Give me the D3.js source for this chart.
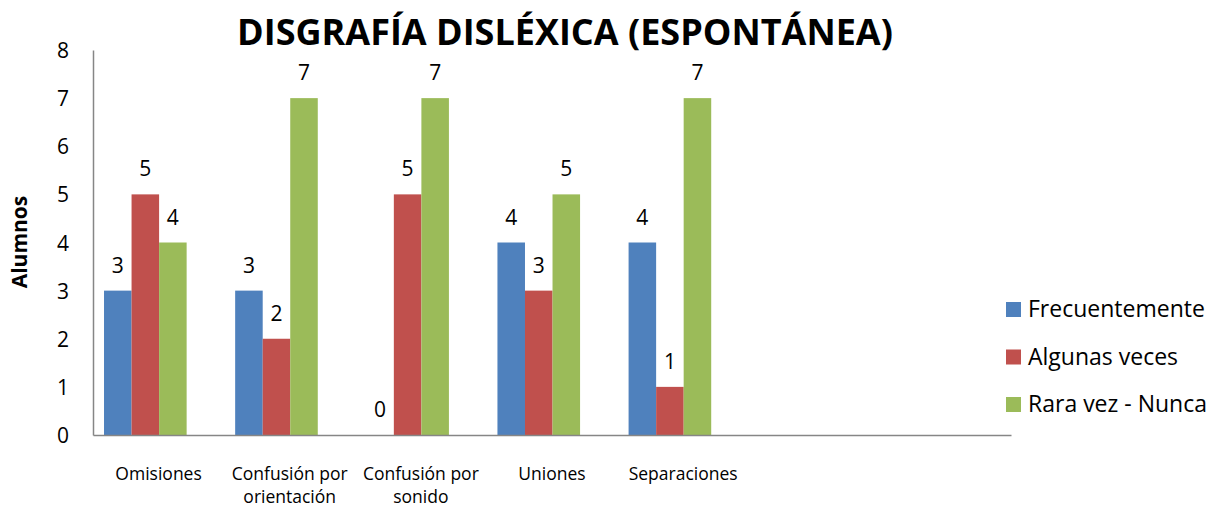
<!DOCTYPE html>
<html>
<head>
<meta charset="utf-8">
<script src="https://cdn.jsdelivr.net/npm/d3@7"></script>
<style>
  body { margin: 0; background: #fff; }
  svg text { font-family: "Open Sans", "Liberation Sans", sans-serif; fill: #000; }
</style>
</head>
<body>
<svg id="chart" width="1219" height="509"></svg>
<script>
// categories (two empty slots at the end, as in the original sheet)
var categories = ['Omisiones', 'Confusión por|orientación', 'Confusión por|sonido', 'Uniones', 'Separaciones', '', ' '];
var series = ['Frecuentemente', 'Algunas veces', 'Rara vez - Nunca'];
var frecuentemente = [3, 3, 0, 4, 4];
var algunasVeces = [5, 2, 5, 3, 1];
var raraVez = [4, 7, 7, 5, 7];
var colors = ['#4F81BD', '#C0504D', '#9BBB59'];
var yTicks = [0, 1, 2, 3, 4, 5, 6, 7, 8];

var values = [frecuentemente, algunasVeces, raraVez];

var svg = d3.select('#chart');
var plotLeft = 93, plotRight = 1011, plotTop = 50, plotBottom = 435;

var x0 = d3.scaleBand()
        .domain(categories)
        .range([plotLeft, plotRight]);
var bw = x0.bandwidth();
var x1 = d3.scaleBand()
        .domain(series)
        .range([bw * 0.084, bw * 0.714]);
var y = d3.scaleLinear()
        .domain([0, 8])
        .range([plotBottom, plotTop]);

// title
svg.append('text')
    .attr('x', 565).attr('y', 45)
    .attr('text-anchor', 'middle')
    .style('font-weight', 'bold')
    .style('font-size', '36px')
    .text('DISGRAFÍA DISLÉXICA (ESPONTÁNEA)');

// y axis title
svg.append('text')
    .attr('transform', 'translate(27,242) rotate(-90)')
    .attr('text-anchor', 'middle')
    .style('font-weight', 'bold')
    .style('font-size', '21px')
    .text('Alumnos');

// bars
var rows = [];
categories.slice(0, 5).forEach(function(c, i) {
    series.forEach(function(s, j) {
        rows.push({cat: c, ser: s, idx: j, v: values[j][i]});
    });
});

svg.append('g').selectAll('rect')
    .data(rows)
    .enter().append('rect')
        .attr('x', function(d) { return x0(d.cat) + x1(d.ser); })
        .attr('y', function(d) { return y(d.v); })
        .attr('width', x1.bandwidth())
        .attr('height', function(d) { return y(0) - y(d.v); })
        .style('fill', function(d) { return colors[d.idx]; });

svg.append('g').selectAll('text')
    .data(rows)
    .enter().append('text')
        .attr('x', function(d) { return x0(d.cat) + x1(d.ser) + x1.bandwidth() / 2; })
        .attr('y', function(d) { return y(d.v) - 18; })
        .attr('text-anchor', 'middle')
        .style('font-size', '21px')
        .text(function(d) { return d.v; });

// axes
var yAxis = svg.append('g')
    .attr('transform', 'translate(' + plotLeft + ',0)')
    .call(d3.axisLeft(y).tickValues(yTicks).tickSize(0).tickPadding(24));
yAxis.select('.domain').attr('stroke', '#868686').attr('stroke-width', 1.5);
yAxis.selectAll('text').style('font-size', '21px').attr('dy', '0.36em');

var xAxis = svg.append('g')
    .attr('transform', 'translate(0,' + plotBottom + ')')
    .call(d3.axisBottom(x0).tickSize(0).tickFormat(''));
xAxis.select('.domain').attr('stroke', '#868686').attr('stroke-width', 1.5);

xAxis.selectAll('.tick').each(function(d) {
    var lines = d.split('|');
    var t = d3.select(this).append('text')
        .attr('text-anchor', 'middle')
        .style('font-size', '17.5px');
    lines.forEach(function(l, k) {
        t.append('tspan').attr('x', 0).attr('y', 45 + k * 23).text(l);
    });
});

// legend
var legend = svg.append('g').selectAll('g')
    .data(series)
    .enter().append('g')
        .attr('transform', function(d, i) { return 'translate(1006,' + (302 + i * 47.5) + ')'; });
legend.append('rect')
    .attr('width', 15).attr('height', 15)
    .style('fill', function(d, i) { return colors[i]; });
legend.append('text')
    .attr('x', 22).attr('y', 15)
    .style('font-size', '23px')
    .text(function(d) { return d; });
</script>
</body>
</html>
